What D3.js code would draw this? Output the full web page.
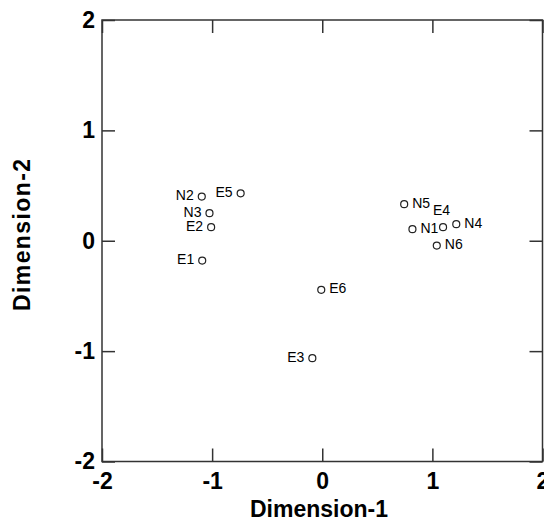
<!DOCTYPE html>
<html>
<head>
<meta charset="utf-8">
<script src="https://cdn.jsdelivr.net/npm/d3@7"></script>
<style>
  html, body { margin: 0; padding: 0; background: #fff; }
  svg { display: block; }
  text { font-family: Arial, "Liberation Sans", Helvetica, sans-serif; }
</style>
</head>
<body>
<svg id="chart" width="544" height="523"></svg>
<script>
// ---- data ----
const labels = ["N2", "E5", "N3", "E2", "E1", "N5", "E4", "N1", "N4", "N6", "E6", "E3"];
const dim1   = [-1.094, -0.741, -1.024, -1.009, -1.090, 0.744, 1.097, 0.819, 1.217, 1.040, -0.009, -0.090];
const dim2   = [0.400, 0.430, 0.250, 0.123, -0.180, 0.331, 0.123, 0.105, 0.150, -0.044, -0.445, -1.064];
const labelSide = ["left", "left", "left", "left", "left", "right", "above", "right", "right", "right", "right", "left"];
const tickValues = [-2, -1, 0, 1, 2];
const tickLabels = ["-2", "-1", "0", "1", "2"];
const xTitle = "Dimension-1";
const yTitle = "Dimension-2";

// ---- chart ----
const svg = d3.select("#chart");
const x = d3.scaleLinear().domain([-2, 2]).range([102, 542.5]);
const y = d3.scaleLinear().domain([-2, 2]).range([461.5, 20]);
const axisColor = "#333";
const tickLen = 13;
const fmt = d => tickLabels[tickValues.indexOf(d)];

const points = labels.map((l, i) => ({ label: l, x: dim1[i], y: dim2[i], side: labelSide[i] }));

// frame
svg.append("rect")
  .attr("x", x(-2)).attr("y", y(2))
  .attr("width", x(2) - x(-2)).attr("height", y(-2) - y(2))
  .attr("fill", "none").attr("stroke", axisColor).attr("stroke-width", 1.5);

function styleAxis(g) {
  g.select(".domain").remove();
  g.selectAll(".tick line").attr("stroke", axisColor).attr("stroke-width", 1.5);
}
function styleText(g) {
  g.selectAll(".tick text")
    .attr("font-size", 23).attr("font-weight", "bold").attr("fill", "#000")
    .attr("font-family", "Arial, 'Liberation Sans', sans-serif");
}
svg.append("g").attr("transform", `translate(0,${y(-2)})`)
  .call(d3.axisBottom(x).tickValues(tickValues).tickSize(-tickLen).tickPadding(11).tickFormat(fmt))
  .call(styleAxis).call(styleText);
svg.append("g").attr("transform", `translate(0,${y(2)})`)
  .call(d3.axisTop(x).tickValues(tickValues).tickSize(-tickLen).tickFormat(""))
  .call(styleAxis);
svg.append("g").attr("transform", `translate(${x(-2)},0)`)
  .call(d3.axisLeft(y).tickValues(tickValues).tickSize(-tickLen).tickPadding(7).tickFormat(fmt))
  .call(styleAxis).call(styleText);
svg.append("g").attr("transform", `translate(${x(2)},0)`)
  .call(d3.axisRight(y).tickValues(tickValues).tickSize(-tickLen).tickFormat(""))
  .call(styleAxis);

// titles
svg.append("text")
  .attr("x", 319).attr("y", 517)
  .attr("text-anchor", "middle")
  .attr("font-size", 23).attr("font-weight", "bold")
  .text(xTitle);
svg.append("text")
  .attr("transform", "translate(30,235) rotate(-90)")
  .attr("text-anchor", "middle")
  .attr("font-size", 23).attr("font-weight", "bold")
  .attr("textLength", 152).attr("lengthAdjust", "spacing")
  .text(yTitle);

// points
svg.append("g").selectAll("circle").data(points).join("circle")
  .attr("cx", d => x(d.x)).attr("cy", d => y(d.y)).attr("r", 3.5)
  .attr("fill", "none").attr("stroke", "#222").attr("stroke-width", 1.2);

svg.append("g").selectAll("text").data(points).join("text")
  .attr("x", d => d.side === "left" ? x(d.x) - 8 : d.side === "right" ? x(d.x) + 8 : x(d.x) - 1.5)
  .attr("y", d => d.side === "above" ? y(d.y) - 17 : y(d.y) - 1.5)
  .attr("dy", "0.35em")
  .attr("text-anchor", d => d.side === "left" ? "end" : d.side === "right" ? "start" : "middle")
  .attr("font-size", 14)
  .attr("fill", "#000")
  .text(d => d.label);
</script>
</body>
</html>
